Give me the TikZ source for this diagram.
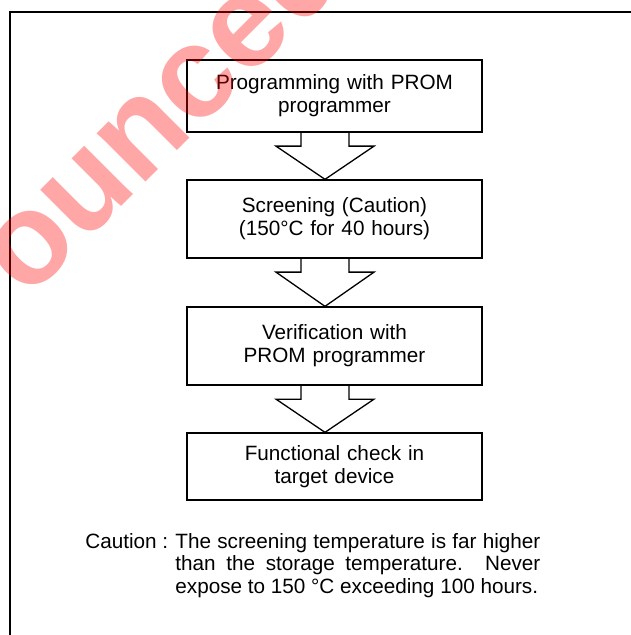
\documentclass[tikz,border=0pt]{standalone}
\usepackage{fontspec}
\setmainfont{Liberation Sans}
\usetikzlibrary{positioning, calc}

\begin{document}
\begin{tikzpicture}[x=0.5pt, y=-0.5pt,
    stagebox/.style={draw, line width=0.65pt, minimum width=147.5pt, text width=140pt, align=center, inner sep=0pt, font=\fontsize{10.35}{11.5}\selectfont},
    flowarrow/.style={draw, line width=0.65pt, line join=miter}]
            \useasboundingbox (0,0) rectangle (630,635);

            % Frame
            \draw[line width=1pt] (10,640) -- (10,12) -- (640,12);

            % Steps
            \node[stagebox, minimum height=36pt] (prog) at (334.5,96) {Programming with PROM\\programmer};
            \node[stagebox, minimum height=39pt] (screen) at (334.5,219) {Screening (Caution)\\(150°C for 40 hours)};
            \node[stagebox, minimum height=39pt] (verify) at (334.5,346) {Verification with\\PROM programmer};
            \node[stagebox, minimum height=33.5pt] (check) at (334.5,466.5) {Functional check in\\target device};

            % Draw block arrows
            \foreach \a/\b in {prog/screen, screen/verify, verify/check}
                \draw[flowarrow] ($(\a.south)+(-33.5,0)$) -- ++(0,13.5) -- ++(-25,0) -- ($(\b.north)+(-9.5,0)$)
                    -- ($(\a.south)+(39.5,13.5)$) -- ++(-25,0) -- ($(\a.south)+(14.5,0)$);

            % Caution note
            \node[anchor=base west, inner sep=0pt, font=\fontsize{10.35}{11.25}\selectfont] (caution) at (85,548) {Caution :};
            \node[anchor=base west, inner sep=0pt, text width=182.5pt, align=justify, font=\fontsize{10.35}{11.25}\selectfont] (cautiontext) at (175,548)
                {The screening temperature is far higher\linebreak than the storage temperature. Never\linebreak expose to 150 °C exceeding 100 hours.};

            % Stamp
            \node[rotate=45, anchor=base west, inner sep=0pt, text=red, opacity=0.35, font=\fontsize{65}{65}\bfseries\selectfont] (stamp) at (27,301) {ounced};

        \end{tikzpicture}
\end{document}
